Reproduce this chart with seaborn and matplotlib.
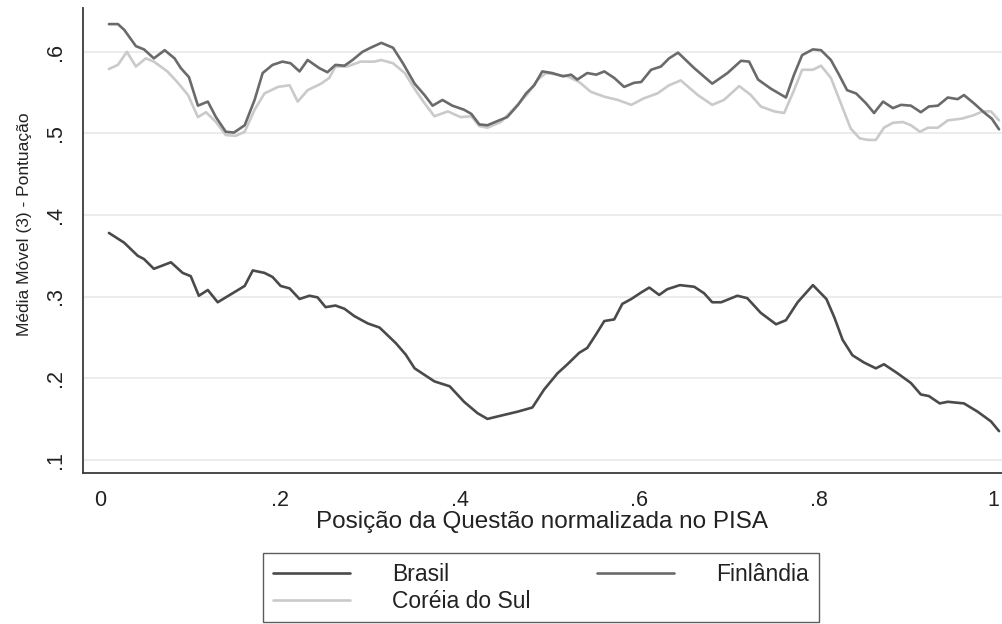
import matplotlib
matplotlib.use("Agg")
import matplotlib.pyplot as plt
import seaborn as sns
import pandas as pd

# ---------------- data ----------------
brasil_x = [0.010, 0.027, 0.042, 0.049, 0.060, 0.079, 0.092, 0.101, 0.110, 0.120,
            0.131, 0.146, 0.161, 0.170, 0.183, 0.192, 0.201, 0.211, 0.222, 0.233,
            0.242, 0.251, 0.262, 0.272, 0.283, 0.298, 0.311, 0.329, 0.340, 0.350,
            0.361, 0.372, 0.389, 0.405, 0.420, 0.431, 0.446, 0.465, 0.481, 0.494,
            0.509, 0.520, 0.533, 0.542, 0.552, 0.561, 0.572, 0.581, 0.591, 0.602,
            0.611, 0.622, 0.631, 0.645, 0.661, 0.672, 0.681, 0.691, 0.709, 0.720,
            0.735, 0.752, 0.763, 0.776, 0.793, 0.808, 0.817, 0.826, 0.837, 0.850,
            0.863, 0.872, 0.887, 0.902, 0.913, 0.922, 0.934, 0.943, 0.961, 0.976,
            0.991, 1.000]
brasil_y = [0.378, 0.366, 0.350, 0.346, 0.334, 0.342, 0.329, 0.325, 0.301, 0.308,
            0.293, 0.303, 0.313, 0.332, 0.329, 0.324, 0.313, 0.310, 0.297, 0.301,
            0.299, 0.287, 0.289, 0.285, 0.276, 0.267, 0.262, 0.243, 0.229, 0.212,
            0.204, 0.196, 0.190, 0.171, 0.157, 0.150, 0.154, 0.159, 0.164, 0.186,
            0.206, 0.217, 0.231, 0.237, 0.254, 0.270, 0.272, 0.291, 0.297, 0.305,
            0.311, 0.302, 0.309, 0.314, 0.312, 0.304, 0.293, 0.293, 0.301, 0.298,
            0.280, 0.266, 0.271, 0.293, 0.314, 0.297, 0.274, 0.247, 0.228, 0.219,
            0.212, 0.217, 0.206, 0.194, 0.180, 0.178, 0.169, 0.171, 0.169, 0.159,
            0.147, 0.135]

finlandia_x = [0.010, 0.020, 0.027, 0.040, 0.049, 0.060, 0.072, 0.083, 0.090, 0.099,
               0.109, 0.120, 0.129, 0.140, 0.149, 0.161, 0.172, 0.181, 0.192, 0.203,
               0.212, 0.222, 0.231, 0.244, 0.253, 0.262, 0.272, 0.281, 0.292, 0.301,
               0.313, 0.326, 0.337, 0.350, 0.361, 0.370, 0.381, 0.392, 0.405, 0.413,
               0.422, 0.431, 0.444, 0.453, 0.465, 0.474, 0.483, 0.492, 0.503, 0.515,
               0.524, 0.531, 0.542, 0.552, 0.561, 0.572, 0.583, 0.594, 0.602, 0.613,
               0.624, 0.633, 0.643, 0.661, 0.681, 0.698, 0.713, 0.722, 0.732, 0.746,
               0.763, 0.772, 0.781, 0.793, 0.802, 0.813, 0.822, 0.831, 0.841, 0.852,
               0.861, 0.871, 0.882, 0.891, 0.902, 0.913, 0.922, 0.932, 0.943, 0.954,
               0.961, 0.972, 0.983, 0.992, 1.000]
finlandia_y = [0.634, 0.634, 0.627, 0.607, 0.603, 0.592, 0.602, 0.592, 0.580, 0.569,
               0.534, 0.539, 0.520, 0.502, 0.501, 0.510, 0.541, 0.574, 0.584, 0.588,
               0.586, 0.576, 0.590, 0.580, 0.575, 0.584, 0.583, 0.590, 0.600, 0.605,
               0.611, 0.605, 0.586, 0.561, 0.547, 0.534, 0.541, 0.534, 0.529, 0.524,
               0.511, 0.510, 0.516, 0.520, 0.535, 0.549, 0.559, 0.576, 0.574, 0.570,
               0.572, 0.566, 0.574, 0.572, 0.576, 0.568, 0.557, 0.562, 0.563, 0.578,
               0.582, 0.592, 0.599, 0.580, 0.561, 0.574, 0.589, 0.588, 0.566, 0.555,
               0.544, 0.572, 0.596, 0.603, 0.602, 0.590, 0.572, 0.553, 0.549, 0.537,
               0.525, 0.539, 0.531, 0.535, 0.534, 0.526, 0.533, 0.534, 0.544, 0.542,
               0.547, 0.537, 0.526, 0.518, 0.505]

coreia_x = [0.010, 0.020, 0.030, 0.040, 0.051, 0.060, 0.075, 0.086, 0.098, 0.109,
            0.118, 0.129, 0.140, 0.151, 0.161, 0.172, 0.183, 0.198, 0.211, 0.220,
            0.231, 0.246, 0.255, 0.262, 0.275, 0.290, 0.305, 0.313, 0.326, 0.339,
            0.351, 0.361, 0.372, 0.387, 0.401, 0.413, 0.422, 0.431, 0.446, 0.461,
            0.476, 0.487, 0.496, 0.509, 0.520, 0.533, 0.546, 0.561, 0.576, 0.591,
            0.605, 0.620, 0.633, 0.646, 0.665, 0.681, 0.694, 0.711, 0.724, 0.735,
            0.750, 0.761, 0.772, 0.781, 0.793, 0.802, 0.813, 0.824, 0.835, 0.845,
            0.854, 0.863, 0.872, 0.882, 0.893, 0.902, 0.912, 0.921, 0.932, 0.943,
            0.958, 0.971, 0.982, 0.991, 1.000]
coreia_y = [0.579, 0.584, 0.600, 0.582, 0.592, 0.588, 0.576, 0.563, 0.547, 0.520,
            0.526, 0.514, 0.498, 0.497, 0.502, 0.529, 0.549, 0.557, 0.559, 0.539,
            0.553, 0.561, 0.568, 0.582, 0.582, 0.588, 0.588, 0.590, 0.586, 0.574,
            0.553, 0.537, 0.521, 0.527, 0.520, 0.521, 0.509, 0.507, 0.514, 0.531,
            0.549, 0.566, 0.574, 0.572, 0.570, 0.563, 0.551, 0.545, 0.541, 0.535,
            0.543, 0.549, 0.559, 0.565, 0.547, 0.535, 0.541, 0.558, 0.547, 0.533,
            0.527, 0.525, 0.553, 0.578, 0.578, 0.583, 0.568, 0.537, 0.506, 0.494,
            0.492, 0.492, 0.507, 0.513, 0.514, 0.510, 0.502, 0.507, 0.507, 0.516,
            0.518, 0.522, 0.527, 0.527, 0.516]

series_names = ["Brasil", "Finlândia", "Coréia do Sul"]
x_ticks = [0, 0.2, 0.4, 0.6, 0.8, 1.0]
x_tick_labels = ["0", ".2", ".4", ".6", ".8", "1"]
y_ticks = [0.1, 0.2, 0.3, 0.4, 0.5, 0.6]
y_tick_labels = [".1", ".2", ".3", ".4", ".5", ".6"]
x_title = "Posição da Questão normalizada no PISA"
y_title = "Média Móvel (3) - Pontuação"

# ---------------- styling ----------------
sns.set_style("white")
plt.rcParams["font.family"] = ["Liberation Sans", "DejaVu Sans"]

colors = {"Brasil": "#4a4a4a", "Finlândia": "#6a6a6a", "Coréia do Sul": "#cacaca"}
frames = {
    "Brasil": pd.DataFrame({"x": brasil_x, "y": brasil_y}),
    "Finlândia": pd.DataFrame({"x": finlandia_x, "y": finlandia_y}),
    "Coréia do Sul": pd.DataFrame({"x": coreia_x, "y": coreia_y}),
}
zorders = {"Brasil": 3, "Finlândia": 3, "Coréia do Sul": 2}

fig = plt.figure(figsize=(10.02, 6.24), dpi=100)
ax = fig.add_axes([0.0825, 0.242, 0.9175, 0.745])

for name in series_names:
    sns.lineplot(data=frames[name], x="x", y="y", ax=ax, color=colors[name],
                 linewidth=1.9, estimator=None, sort=False, label=name,
                 zorder=zorders[name])
hs, ls = ax.get_legend_handles_labels()
handles = dict(zip(ls, hs))
ax.get_legend().remove()

ax.set_xlim(-0.0192, 1.0033)
ax.set_ylim(0.0837, 0.6536)
ax.set_xticks(x_ticks)
ax.set_xticklabels(x_tick_labels)
ax.set_yticks(y_ticks)
ax.set_yticklabels(y_tick_labels, rotation=90, va="center")
ax.get_xticklabels()[-1].set_horizontalalignment("right")

for y in y_ticks:
    ax.axhline(y, color="#ececec", linewidth=1.4, zorder=0)

for s in ["top", "right"]:
    ax.spines[s].set_visible(False)
for s in ["left", "bottom"]:
    ax.spines[s].set_color("#3a3a3a")
    ax.spines[s].set_linewidth(1.3)

ax.tick_params(axis="both", direction="out", length=7.2, width=1.0,
               color="#3a3a3a", labelsize=15.5, labelcolor="#222222")
ax.tick_params(axis="x", pad=5)
ax.tick_params(axis="y", pad=5)

ax.set_xlabel(x_title, fontsize=17.5, color="#222222", labelpad=0)
ax.set_ylabel(y_title, fontsize=12.5, color="#222222")
ax.yaxis.set_label_coords(-0.055, 0.535)

order = ["Brasil", "Coréia do Sul", "Finlândia"]
leg = fig.legend([handles[n] for n in order], order, ncol=2,
                 loc="upper left", bbox_to_anchor=(263 / 1002, 1 - 553 / 624),
                 bbox_transform=fig.transFigure, frameon=True, fancybox=False,
                 edgecolor="#333333", fontsize=16.5, handlelength=3.36,
                 handletextpad=1.85, columnspacing=2.9, labelspacing=0.18,
                 borderpad=0.42, borderaxespad=0)
leg.get_frame().set_linewidth(1.0)
for t in leg.get_texts():
    t.set_color("#222222")

fig.savefig("out.png", dpi=100)
